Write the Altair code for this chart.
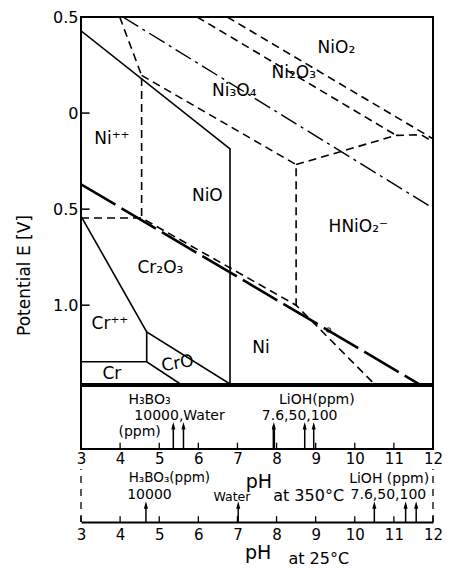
import altair as alt
import pandas as pd

FONT = "DejaVu Sans"

# ---------------- main diagram data (pH at 350 C, potential E in V) -------------
solid_lines = {
    "ni_oxide_edge": ([3.0, 6.81, 6.81], [0.428, -0.186, -1.41]),
    "cr_pp": ([3.0, 4.68, 6.81], [-0.536, -1.139, -1.41]),
    "cro_left": ([4.68, 4.68], [-1.139, -1.294]),
    "cr": ([3.0, 4.68, 5.54], [-1.294, -1.294, -1.41]),
}
thick_lines = {
    "cr2o3_cr": ([3.0, 11.64], [-0.371, -1.41]),
}
dashed_lines = {
    "ni": ([3.0, 4.55, 8.5, 10.5], [-0.546, -0.546, -1.0, -1.41]),
    "nio_left": ([3.99, 4.55, 4.55], [0.5, 0.196, -0.546]),
    "nio_ni3o4": ([4.55, 8.5, 8.5], [0.196, -0.268, -1.0]),
    "hnio2_top": ([8.5, 11.06, 11.70, 12.0], [-0.268, -0.116, -0.113, -0.149]),
    "ni3o4_ni2o3": ([5.97, 11.06], [0.5, -0.116]),
    "ni2o3_nio2": ([6.74, 12.0], [0.5, -0.134]),
}
dashdot_lines = {
    "o2": ([4.07, 12.0], [0.5, -0.495]),
}
circle_pH = [9.33]
circle_E = [-1.129]

region_names = ["NiO₂", "Ni₂O₃", "Ni₃O₄", "Ni⁺⁺", "NiO", "Cr₂O₃", "HNiO₂⁻",
                "Cr⁺⁺", "CrO", "Cr", "Ni"]
region_pH = [9.53, 8.44, 6.92, 3.79, 6.23, 5.03, 10.09, 3.74, 5.47, 3.79, 7.60]
region_E = [0.340, 0.211, 0.113, -0.134, -0.433, -0.804, -0.593, -1.098, -1.304, -1.356, -1.222]
region_angle = [0, 0, 0, 0, 0, 0, 0, 0, 350, 0, 0]

e_ticks = [0.5, 0.0, -0.5, -1.0]
e_inner_ticks = [0.0, -0.5, -1.0]
ph_ticks = [3, 4, 5, 6, 7, 8, 9, 10, 11, 12]

# ---------------- pH scale at 350 C ----------------
arrows350_pH = [5.36, 5.62, 7.93, 8.72, 8.95]
arrows350_top = [0.37, 0.37, 0.37, 0.37, 0.37]
arrows350_w = [1.5, 1.5, 2.5, 1.5, 1.5]
text350 = ["H₃BO₃", "10000,Water", "(ppm)", "LiOH(ppm)", "7.6,50,100"]
text350_pH = [4.75, 5.52, 4.50, 9.03, 8.59]
text350_y = [0.78, 0.52, 0.27, 0.78, 0.52]

# ---------------- pH scale at 25 C ----------------
arrows25_pH = [4.66, 7.02, 10.5, 11.3, 11.57]
arrows25_top = [0.32, 0.32, 0.32, 0.32, 0.32]
text25 = ["H₃BO₃(ppm)", "10000", "pH", "Water", "at 350°C", "LiOH (ppm)", "7.6,50,100",
          "pH", "at 25°C"]
text25_pH = [5.26, 4.75, 7.55, 6.86, 8.82, 10.88, 10.86, 7.53, 9.08]
text25_y = [0.83, 0.51, 0.76, 0.47, 0.49, 0.81, 0.51, -0.58, -0.69]
text25_size = [13.5, 14, 19, 12.5, 16, 14, 14, 19, 16]

W, H1, H2, H3 = 352, 367, 63, 53


def lines_df(groups):
    rows = []
    for name, (xs, ys) in groups.items():
        for i, (x, y) in enumerate(zip(xs, ys)):
            rows.append({"series": name, "order": i, "pH": x, "E": y})
    return pd.DataFrame(rows)


xscale = alt.Scale(domain=[3, 12], nice=False, zero=False)
yscale1 = alt.Scale(domain=[-1.41, 0.5], nice=False, zero=False)
yunit = alt.Scale(domain=[0, 1], nice=False, zero=False)

yaxis1 = alt.Axis(values=e_ticks,
                  labelExpr="datum.value == 0 ? '0' : format(abs(datum.value), '.1f')",
                  ticks=False, domain=False, grid=False, labelPadding=3,
                  labelFontSize=16, labelFont=FONT, labelColor="black",
                  labelOverlap=False,
                  title="Potential E [V]", titleFont=FONT, titleFontSize=17,
                  titleFontWeight="normal", titleColor="black", titlePadding=19,
                  titleY=258)


def line_layer(groups, width=1.5, dash=None):
    kw = dict(color="black", strokeWidth=width, clip=True)
    if dash:
        kw["strokeDash"] = dash
    return alt.Chart(lines_df(groups)).mark_line(**kw).encode(
        x=alt.X("pH:Q", scale=xscale, axis=None),
        y=alt.Y("E:Q", scale=yscale1, axis=yaxis1),
        detail="series:N",
        order="order:Q",
    )


tick_df = pd.DataFrame({"E": e_inner_ticks, "x0": [3.0] * 3, "x1": [3.22] * 3})
inner_ticks = alt.Chart(tick_df).mark_rule(color="black", strokeWidth=1.5).encode(
    x=alt.X("x0:Q", scale=xscale, axis=None), x2="x1:Q",
    y=alt.Y("E:Q", scale=yscale1, axis=yaxis1))

circle = alt.Chart(pd.DataFrame({"pH": circle_pH, "E": circle_E})).mark_point(
    shape="circle", size=18, color="black", filled=False, strokeWidth=1.2).encode(
    x=alt.X("pH:Q", scale=xscale, axis=None),
    y=alt.Y("E:Q", scale=yscale1, axis=yaxis1))

labels = alt.Chart(pd.DataFrame({"t": region_names, "pH": region_pH, "E": region_E,
                                 "a": region_angle})).mark_text(
    font=FONT, fontSize=17, color="black", align="center", baseline="middle").encode(
    x=alt.X("pH:Q", scale=xscale, axis=None),
    y=alt.Y("E:Q", scale=yscale1, axis=yaxis1),
    text="t:N", angle=alt.Angle("a:Q", scale=None))

main = alt.layer(
    inner_ticks,
    line_layer(solid_lines, 1.6),
    line_layer(thick_lines, 2.6, [40, 7]),
    line_layer(dashed_lines, 1.6, [8, 5]),
    line_layer(dashdot_lines, 1.4, [18, 5, 3, 5]),
    circle, labels,
).properties(width=W, height=H1)


# ---------------- lower scale panels ----------------
def xaxis(pad, domain):
    return alt.Axis(values=ph_ticks, format="d", ticks=False, domain=domain,
                    domainColor="black", domainWidth=2, grid=False,
                    labelPadding=pad, labelFontSize=15, labelFont=FONT,
                    labelColor="black", labelFlush=False, labelOverlap=False,
                    title=None)


def scale_panel(ax, arrows_pH, arrows_top, arrows_w, texts, t_pH, t_y, t_size, tick_top):
    tdf = pd.DataFrame({"pH": ph_ticks, "y0": [0.0] * len(ph_ticks),
                        "y1": [tick_top] * len(ph_ticks)})
    ticks = alt.Chart(tdf).mark_rule(color="black", strokeWidth=1.3).encode(
        x=alt.X("pH:Q", scale=xscale, axis=ax),
        y=alt.Y("y0:Q", scale=yunit, axis=None), y2="y1:Q")
    adf = pd.DataFrame({"pH": arrows_pH, "y0": [0.0] * len(arrows_pH),
                        "y1": arrows_top, "w": arrows_w})
    shafts = alt.Chart(adf).mark_rule(color="black").encode(
        x=alt.X("pH:Q", scale=xscale, axis=ax),
        y=alt.Y("y0:Q", scale=yunit, axis=None), y2="y1:Q",
        strokeWidth=alt.StrokeWidth("w:Q", scale=None))
    heads = alt.Chart(adf).mark_point(
        shape="M 0 -1 L 0.55 1 L -0.55 1 Z", filled=True, color="black",
        size=55, opacity=1).encode(
        x=alt.X("pH:Q", scale=xscale, axis=ax),
        y=alt.Y("y1:Q", scale=yunit, axis=None))
    txt = alt.Chart(pd.DataFrame({"t": texts, "pH": t_pH, "y": t_y, "s": t_size})).mark_text(
        font=FONT, color="black", align="center", baseline="middle").encode(
        x=alt.X("pH:Q", scale=xscale, axis=ax),
        y=alt.Y("y:Q", scale=yunit, axis=None),
        text="t:N", size=alt.Size("s:Q", scale=None))
    return [ticks, shafts, heads, txt]


ax350 = xaxis(2, False)
panel350 = alt.layer(*scale_panel(ax350, arrows350_pH, arrows350_top, arrows350_w,
                                  text350, text350_pH, text350_y, [14] * 5, 0.1)
                     ).properties(width=W, height=H2)

ax25 = xaxis(5, True)
side_df = pd.DataFrame({"pH": [3.0, 12.0], "y0": [0.0, 0.0], "y1": [1.0, 1.0]})
sides = alt.Chart(side_df).mark_rule(color="black", strokeWidth=1.3, strokeDash=[7, 6]).encode(
    x=alt.X("pH:Q", scale=xscale, axis=ax25),
    y=alt.Y("y0:Q", scale=yunit, axis=None), y2="y1:Q")
panel25 = alt.layer(sides, *scale_panel(ax25, arrows25_pH, arrows25_top, [1.5] * 5,
                                        text25, text25_pH, text25_y, text25_size, 0.11)
                    ).properties(width=W, height=H3,
                                 view=alt.ViewBackground(stroke="transparent"))

chart = alt.vconcat(main, panel350, panel25, spacing=0).properties(
    padding={"left": 6, "top": 0, "right": 0, "bottom": 0},
    background="white",
).configure_view(stroke="black", strokeWidth=2)

chart.save("out.html", embed_options={"renderer": "svg", "actions": False})
